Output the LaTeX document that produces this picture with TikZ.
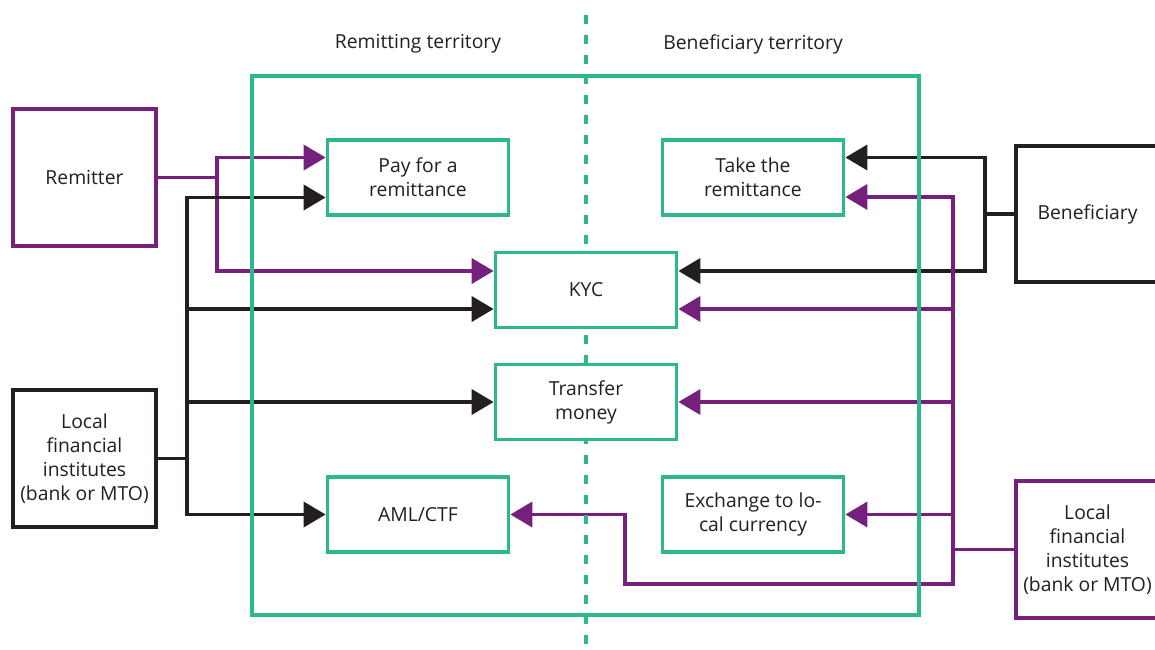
\documentclass[tikz,border=0pt]{standalone}
\usepackage{fontspec}
\setmainfont{Open Sans}
\usetikzlibrary{arrows.meta,calc}
\definecolor{zonegreen}{RGB}{43,185,137}
\definecolor{flowpurple}{RGB}{118,32,126}
\definecolor{inkdark}{RGB}{35,31,32}
\pgfdeclarelayer{links}
\pgfdeclarelayer{frame}
\pgfsetlayers{links,frame,main}
\begin{document}
\begin{tikzpicture}[x=0.75pt,y=-0.75pt,
  every node/.style={text=inkdark,font=\fontsize{14.5}{18}\selectfont,align=center,inner sep=0pt},
  taskbox/.style={draw=zonegreen,line width=2.8pt,fill=white,minimum width=135.75pt,minimum height=56.25pt},
  partybox/.style={line width=2.8pt,fill=white,minimum width=107.25pt,minimum height=102.75pt},
  blkline/.style={draw=inkdark,line width=2.8pt},
  purline/.style={draw=flowpurple,line width=2.8pt},
  tip/.style={-{Triangle[length=16.5pt,width=18.75pt]}},
]
\clip (0,0) rectangle (1155,649);

% junction points of the connector trees
\coordinate (remj) at (217,177.5);
\coordinate (lfij) at (187,458.5);
\coordinate (benj) at (985,214);
\coordinate (rfij) at (953,549.5);
\coordinate (amlturn) at (625,584);

% parties outside the territories
\node[partybox,draw=flowpurple] (rem) at (84.5,177.5) {Remitter};
\node[partybox,draw=inkdark] (lfi) at (84.5,458.5) {Local\\financial\\institutes\\(bank or MTO)};
\node[partybox,draw=inkdark,minimum height=102pt] (ben) at (1087.5,214) {Beneficiary};
\node[partybox,draw=flowpurple] (rfi) at (1087.5,549.5) {Local\\financial\\institutes\\(bank or MTO)};

% process steps
\node[taskbox] (pay) at (418,177.5) {Pay for a\\remittance};
\node[taskbox] (take) at (753,177.5) {Take the\\remittance};
\node[taskbox] (kyc) at (586,290) {KYC};
\node[taskbox] (trf) at (586,402) {Transfer\\money};
\node[taskbox] (aml) at (418,514.5) {AML/CTF};
\node[taskbox] (exch) at (753,514.5) {Exchange to lo-\\cal currency};

\node (remterr) at (418,44) {Remitting territory};
\node (benterr) at (753,44) {Beneficiary territory};

% territory frame and border line
\begin{pgfonlayer}{frame}
\node[draw=zonegreen,line width=2.8pt,minimum width=500.25pt,minimum height=404.25pt] (zone) at (585.5,345.5) {};
\draw[draw=zonegreen,line width=2.8pt,dash pattern=on 6.75pt off 8.25pt] (586,15) -- (586,652);
\end{pgfonlayer}

\begin{pgfonlayer}{links}
% remitter
\draw[purline] (rem.east) -- (remj);
\draw[purline,tip] (remj) |- ($(pay.west)+(0,-20)$);
\draw[purline,tip] (remj) |- ($(kyc.west)+(0,-19)$);

% local financial institutes, remitting side
\draw[blkline] (lfi.east) -- (lfij);
\draw[blkline,tip] (lfij) |- ($(pay.west)+(0,20)$);
\draw[blkline,tip] (lfij) |- ($(kyc.west)+(0,19)$);
\draw[blkline,tip] (lfij) |- (trf.west);
\draw[blkline,tip] (lfij) |- (aml.west);

% beneficiary
\draw[blkline] (ben.west) -- (benj);
\draw[blkline,tip] (benj) |- ($(take.east)+(0,-20)$);
\draw[blkline,tip] (benj) |- ($(kyc.east)+(0,-19)$);

% local financial institutes, beneficiary side
\draw[purline] (rfi.west) -- (rfij);
\draw[purline,tip] (rfij) |- ($(take.east)+(0,19.5)$);
\draw[purline,tip] (rfij) |- ($(kyc.east)+(0,19)$);
\draw[purline,tip] (rfij) |- (trf.east);
\draw[purline,tip] (rfij) |- (exch.east);
\draw[purline,tip] (rfij) |- (amlturn) |- (aml.east);
\end{pgfonlayer}
\end{tikzpicture}
\end{document}
